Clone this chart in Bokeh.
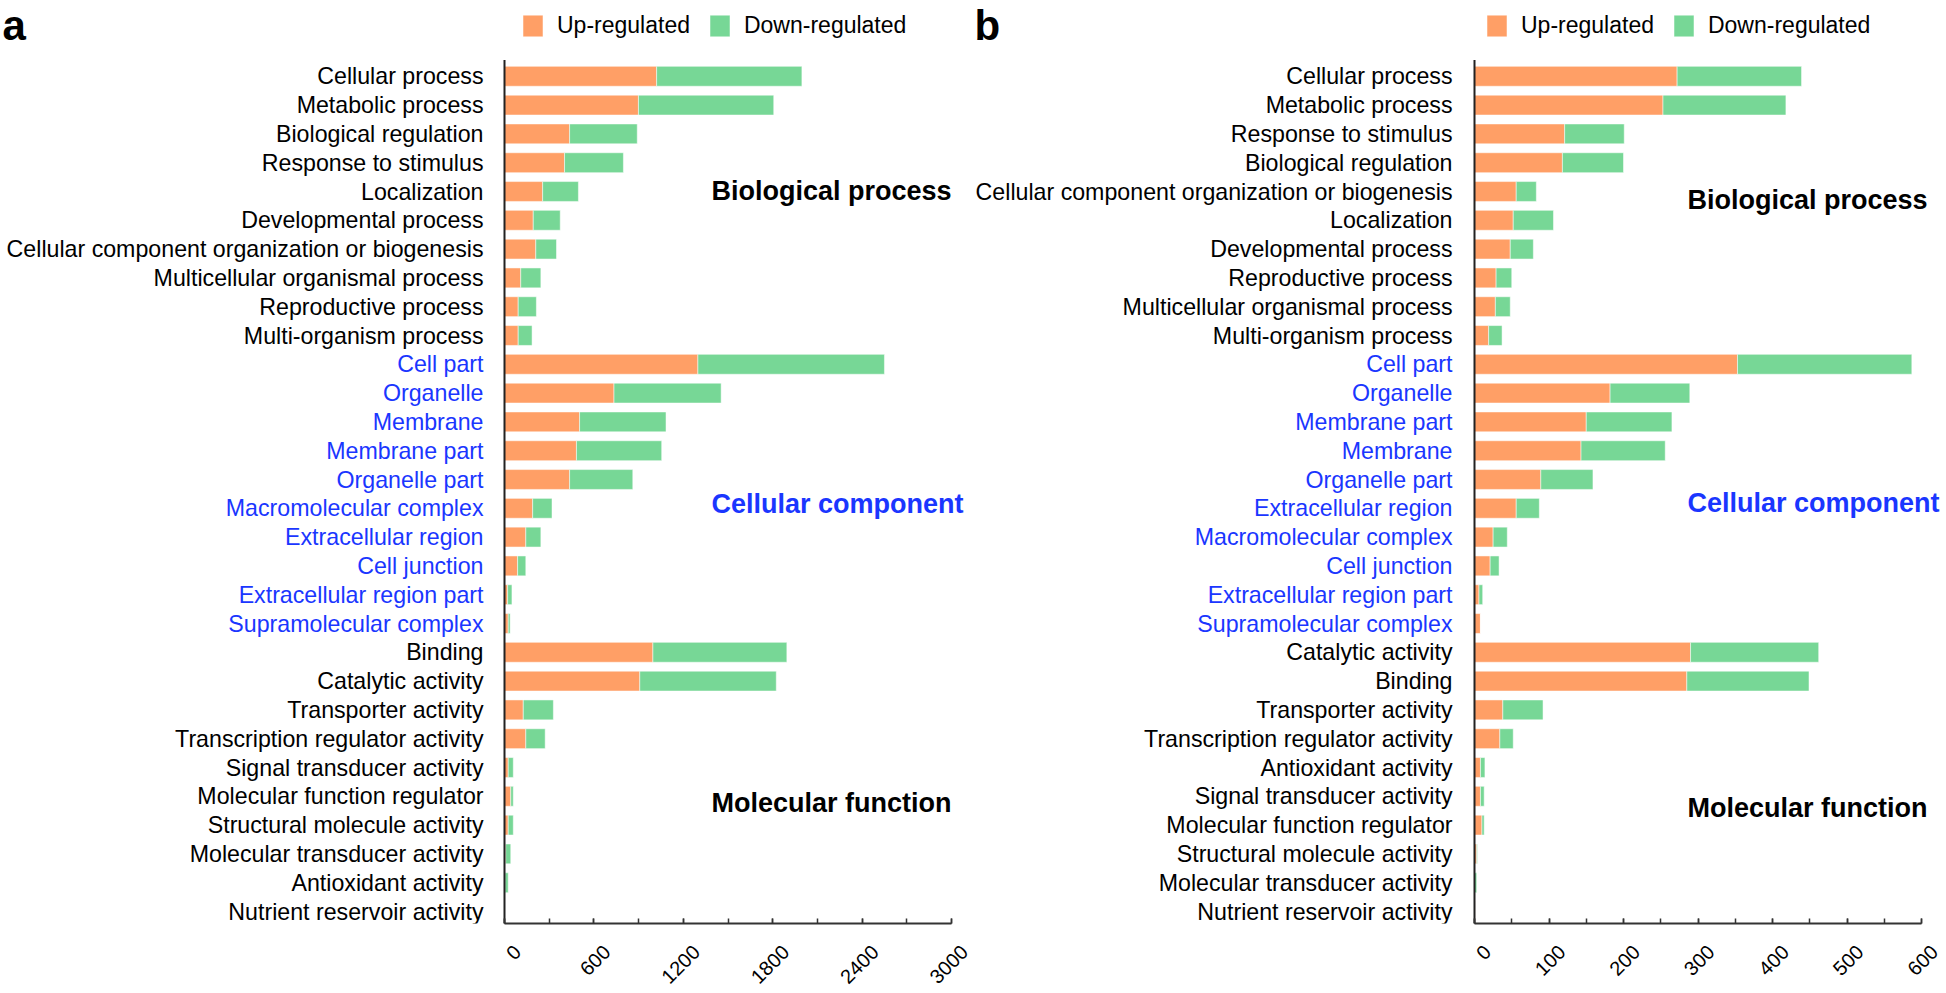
import math
from bokeh.plotting import figure
from bokeh.models import (ColumnDataSource, Range1d, Label, Legend, LegendItem,
                          SingleIntervalTicker, LinearAxis)
from bokeh.layouts import row
from bokeh.core.properties import field, value
from bokeh.embed import file_html
from bokeh.resources import INLINE

# ---------------- data: panel a ----------------
a_terms = ["Cellular process", "Metabolic process", "Biological regulation", "Response to stimulus",
           "Localization", "Developmental process", "Cellular component organization or biogenesis",
           "Multicellular organismal process", "Reproductive process", "Multi-organism process",
           "Cell part", "Organelle", "Membrane", "Membrane part", "Organelle part",
           "Macromolecular complex", "Extracellular region", "Cell junction",
           "Extracellular region part", "Supramolecular complex",
           "Binding", "Catalytic activity", "Transporter activity", "Transcription regulator activity",
           "Signal transducer activity", "Molecular function regulator", "Structural molecule activity",
           "Molecular transducer activity", "Antioxidant activity", "Nutrient reservoir activity"]
a_groups = ["BP"] * 10 + ["CC"] * 10 + ["MF"] * 10
a_up = [1021, 899, 437, 403, 256, 193, 210, 109, 92, 92,
        1298, 735, 504, 483, 437, 189, 143, 88, 21, 25,
        996, 908, 126, 143, 25, 42, 25, 8, 4, 1]
a_down = [975, 908, 454, 395, 240, 181, 139, 135, 122, 93,
          1252, 719, 580, 572, 424, 130, 101, 55, 29, 13,
          899, 916, 202, 130, 34, 17, 34, 34, 21, 0]
a_xmax = 3000
a_tick_step = 600

# ---------------- data: panel b ----------------
b_terms = ["Cellular process", "Metabolic process", "Response to stimulus", "Biological regulation",
           "Cellular component organization or biogenesis", "Localization", "Developmental process",
           "Reproductive process", "Multicellular organismal process", "Multi-organism process",
           "Cell part", "Organelle", "Membrane part", "Membrane", "Organelle part",
           "Extracellular region", "Macromolecular complex", "Cell junction",
           "Extracellular region part", "Supramolecular complex",
           "Catalytic activity", "Binding", "Transporter activity", "Transcription regulator activity",
           "Antioxidant activity", "Signal transducer activity", "Molecular function regulator",
           "Structural molecule activity", "Molecular transducer activity", "Nutrient reservoir activity"]
b_groups = ["BP"] * 10 + ["CC"] * 10 + ["MF"] * 10
b_up = [272, 253, 121, 118, 56, 52, 48, 29, 28, 19,
        353, 182, 150, 143, 89, 56, 25, 21, 6, 8,
        290, 285, 38, 34, 8, 8, 10, 3, 0, 1]
b_down = [167, 165, 80, 82, 27, 54, 31, 21, 20, 18,
          234, 107, 115, 113, 70, 31, 19, 12, 5, 0,
          172, 164, 54, 18, 6, 5, 3, 1, 3, 0]
b_xmax = 600
b_tick_step = 100

series_names = ["Up-regulated", "Down-regulated"]
group_titles = {"BP": "Biological process", "CC": "Cellular component", "MF": "Molecular function"}

ORANGE = "#FF9F66"
GREEN = "#77D796"
BLUE = "#1A36FF"
FONT = "Liberation Sans"

# ---------------- layout (pixels) ----------------
FRAME_H = 923          # frame spans from page top down to the x axis line
ROW_PX = 28.8          # pixel height of one category row
BOTTOM_GAP = 12        # px between axis line and centre of last row
AXIS_W = 447           # px between 0 and the last tick
TOTAL_H = 993


def make_panel(letter, terms, groups, up, down, xmax, step, fig_w, axis_off,
               label_gap, legend_x, title_x, title_ys, letter_x, label_shift):
    n = len(terms)
    rows = [n - 1 - i for i in range(n)]
    colors = [BLUE if g == "CC" else "black" for g in groups]
    src = ColumnDataSource(dict(term=terms, row=rows, up=up, down=down, color=colors))

    ppu = AXIS_W / xmax
    x0 = -axis_off / ppu
    x1 = (fig_w - axis_off) / ppu
    y0 = -BOTTOM_GAP / ROW_PX
    y1 = y0 + FRAME_H / ROW_PX

    p = figure(x_range=Range1d(x0, x1), y_range=Range1d(y0, y1),
               width=fig_w, height=TOTAL_H,
               min_border_left=0, min_border_right=0, min_border_top=0,
               min_border_bottom=TOTAL_H - FRAME_H,
               y_axis_location=None,
               output_backend="svg", toolbar_location=None)
    p.outline_line_color = None
    p.xgrid.visible = False
    p.ygrid.visible = False
    p.background_fill_color = "white"
    p.border_fill_color = "white"

    rs = p.hbar_stack(["up", "down"], y="row", height=0.69, color=[ORANGE, GREEN],
                      source=src, line_color="white", line_width=1, line_alpha=0.5)

    # vertical axis line at x = 0
    p.segment(x0=[0], y0=[y0], x1=[0], y1=[n - 1 + 0.57], line_color="#222222", line_width=2)

    # main x axis: line + inward ticks (its own labels are not painted)
    ax = p.xaxis[0]
    ax.bounds = (0, xmax)
    ax.ticker = SingleIntervalTicker(interval=step, num_minor_ticks=2)
    ax.axis_line_color = "#333333"
    ax.axis_line_width = 2
    ax.major_tick_in = 5
    ax.major_tick_out = 0
    ax.minor_tick_in = 5
    ax.minor_tick_out = 0
    ax.major_tick_line_color = "#333333"
    ax.minor_tick_line_color = "#333333"
    ax.major_tick_line_width = 1.5
    ax.minor_tick_line_width = 1.5
    ax.major_label_text_color = None
    ax.major_label_text_font_size = "1px"
    ax.major_label_standoff = 0

    # tick-label axis on a slightly shifted copy of the range
    p.extra_x_ranges = {"lab": Range1d(x0 - label_shift / ppu, x1 - label_shift / ppu)}
    lab = LinearAxis(x_range_name="lab", bounds=(0, xmax),
                     ticker=SingleIntervalTicker(interval=step, num_minor_ticks=0))
    lab.axis_line_color = None
    lab.major_tick_line_color = None
    lab.minor_tick_line_color = None
    lab.major_tick_in = 0
    lab.major_tick_out = 0
    lab.major_label_orientation = math.pi / 4
    lab.major_label_text_font = FONT
    lab.major_label_text_font_size = "20px"
    lab.major_label_text_color = "black"
    lab.major_label_standoff = 25
    p.add_layout(lab, "below")

    # category labels
    p.text(x=0, y="row", text="term", source=src, x_offset=-label_gap,
           text_align="right", text_baseline="middle",
           text_font=value(FONT), text_font_size=value("23.2px"),
           text_color=field("color"))

    for g, yy in zip(["BP", "CC", "MF"], title_ys):
        p.add_layout(Label(x=title_x, y=yy, x_units="screen", y_units="screen",
                           text=group_titles[g], text_font=FONT, text_font_size="27px",
                           text_font_style="bold", text_baseline="middle",
                           text_color=BLUE if g == "CC" else "black"))

    p.add_layout(Label(x=letter_x, y=FRAME_H - 1, x_units="screen", y_units="screen",
                       text=letter, text_font=FONT, text_font_size="42px",
                       text_font_style="bold", text_baseline="top", text_color="black"))

    legend = Legend(items=[LegendItem(label=series_names[0], renderers=[rs[0]]),
                           LegendItem(label=series_names[1], renderers=[rs[1]])],
                    orientation="horizontal", location=(legend_x, FRAME_H - 39),
                    padding=0, margin=0, spacing=17, glyph_width=25, glyph_height=27,
                    label_height=27, label_standoff=12, label_text_font=FONT,
                    label_text_font_size="23px", label_text_color="black",
                    border_line_color=None, background_fill_alpha=0)
    p.add_layout(legend)
    return p


pa = make_panel("a", a_terms, a_groups, a_up, a_down, a_xmax, a_tick_step,
                fig_w=972, axis_off=504, label_gap=21, legend_x=520,
                title_x=711, title_ys=[733, 420, 121], letter_x=2, label_shift=13)
pb = make_panel("b", b_terms, b_groups, b_up, b_down, b_xmax, b_tick_step,
                fig_w=974, axis_off=502, label_gap=22, legend_x=512,
                title_x=715, title_ys=[724, 421, 116], letter_x=2, label_shift=13)

layout = row(pa, pb)
open("out.html", "w").write(file_html(layout, INLINE))
